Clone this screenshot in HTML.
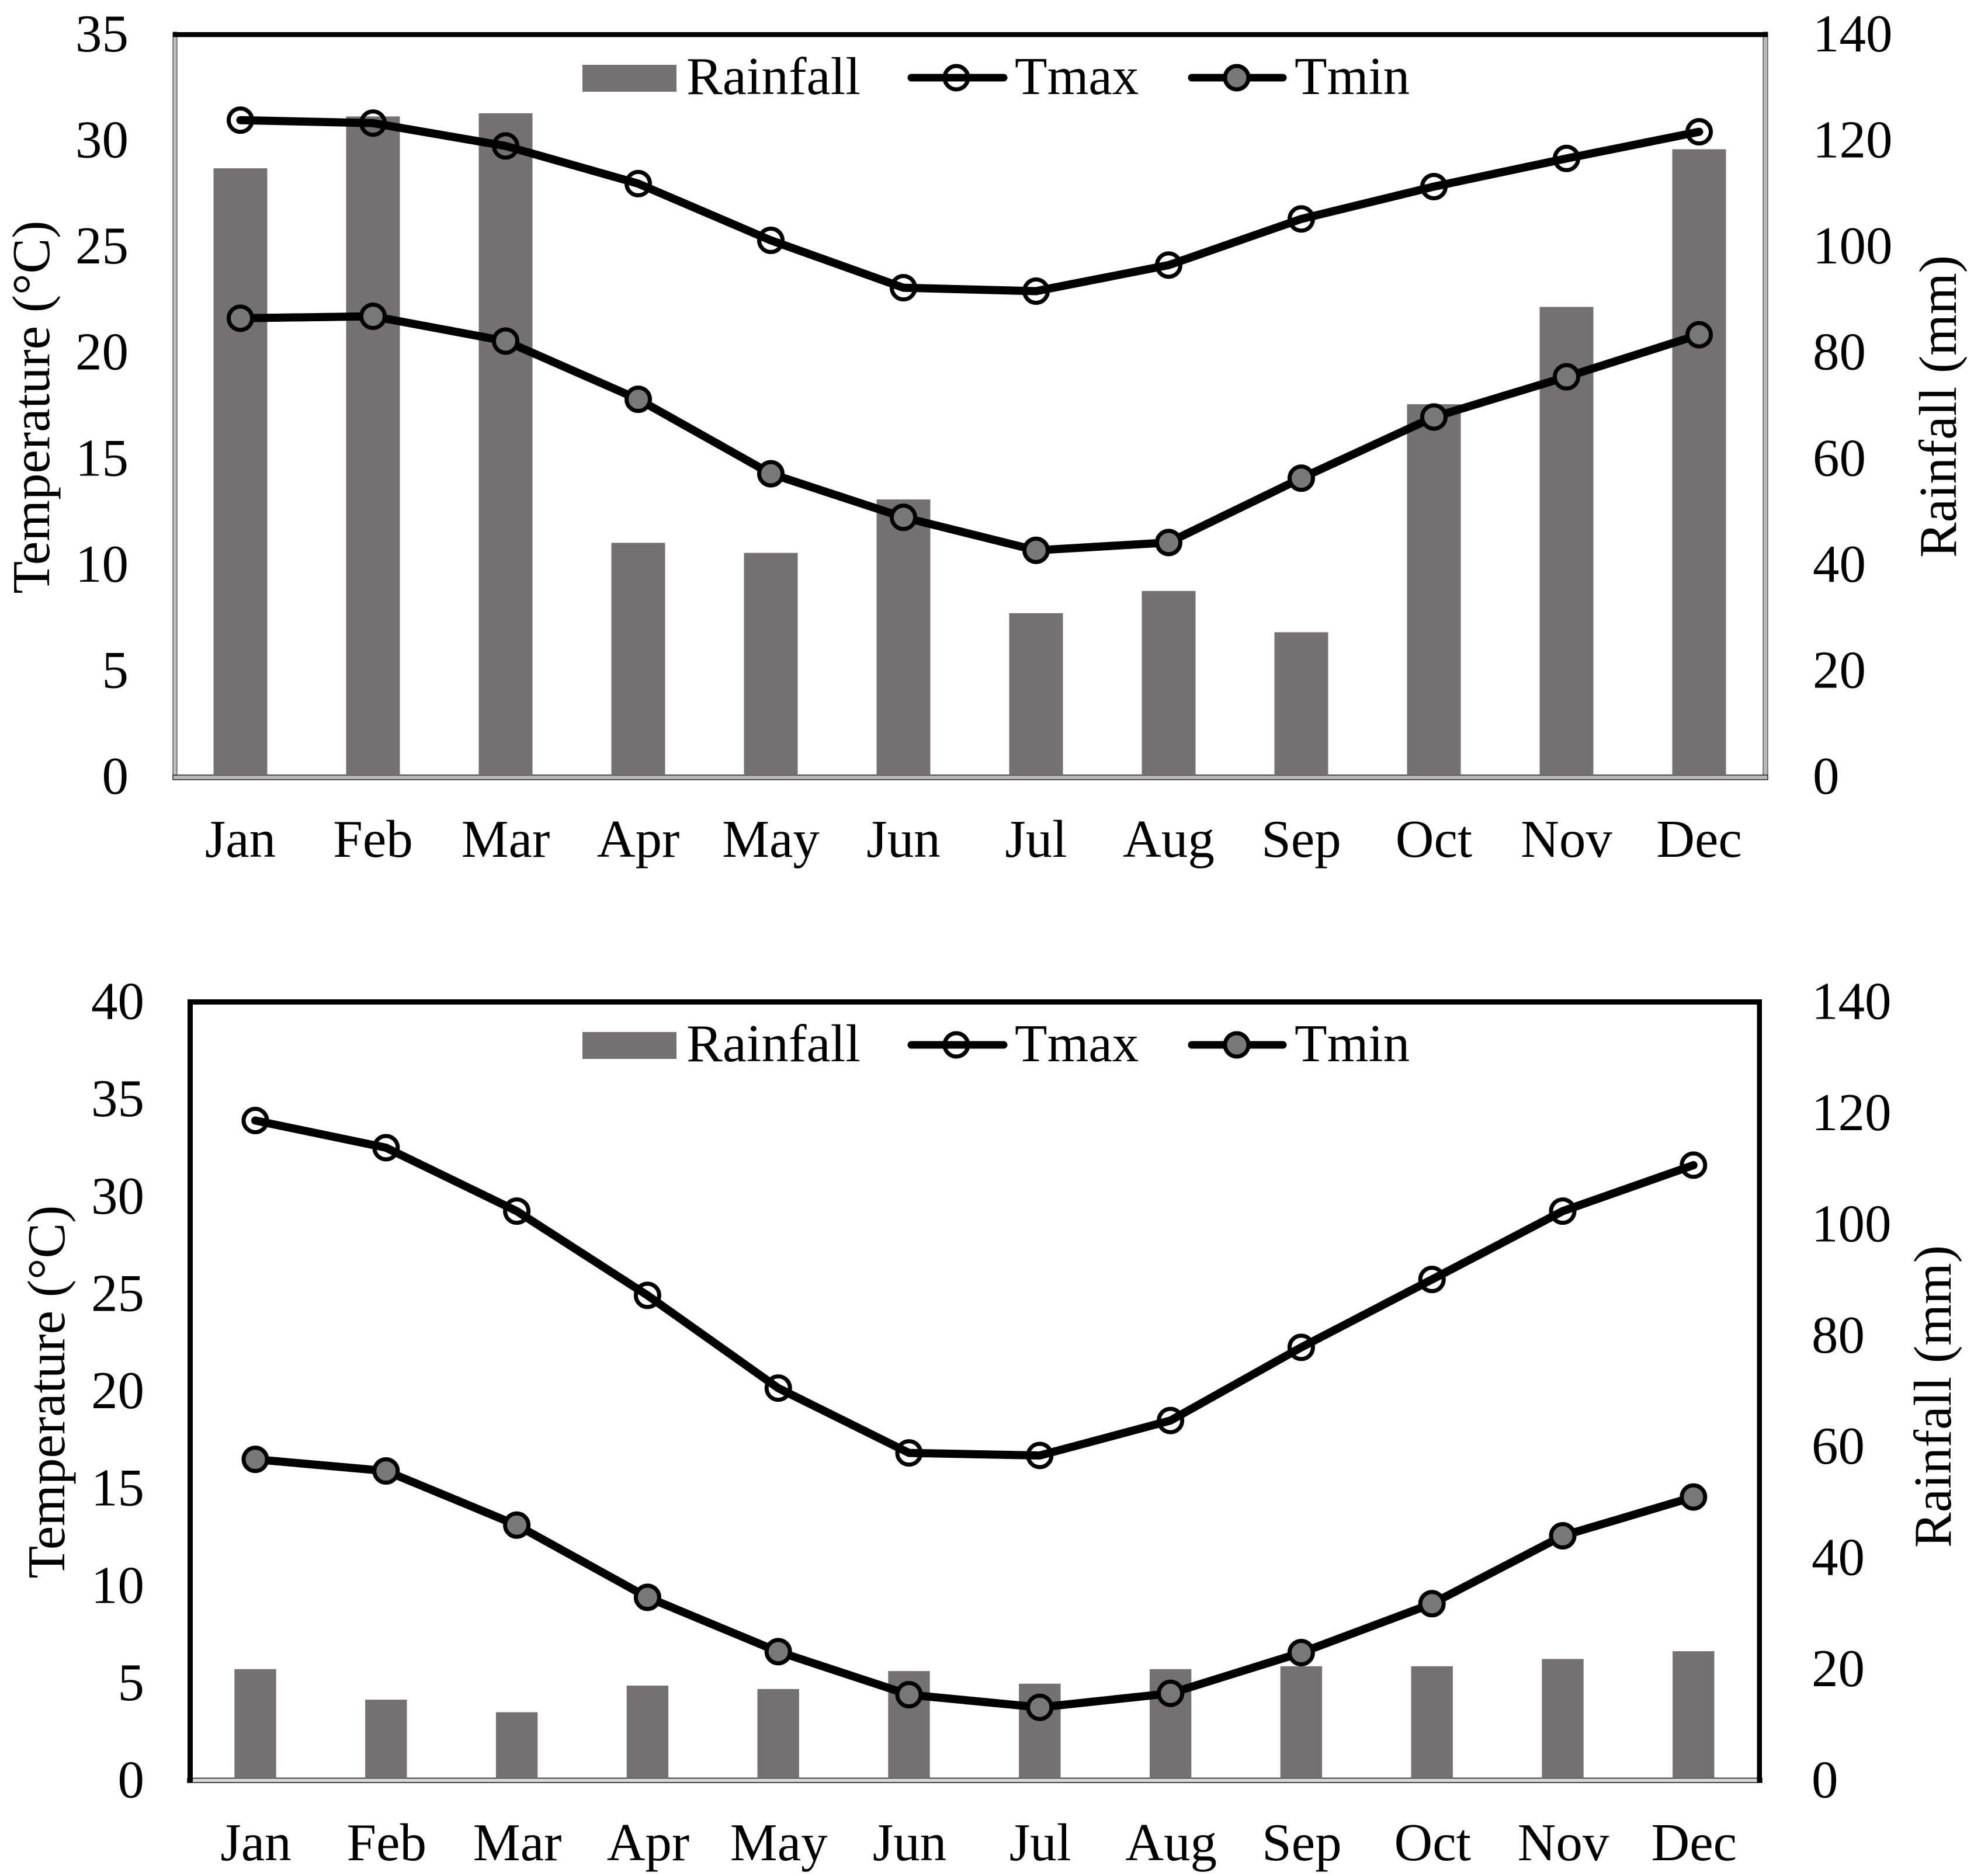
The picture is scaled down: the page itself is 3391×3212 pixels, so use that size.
<!DOCTYPE html>
<html lang="en">
<head>
<meta charset="utf-8">
<title>Monthly temperature and rainfall climate charts</title>
<style>
  html, body { margin: 0; padding: 0; background: #ffffff; }
  svg { display: block; }
  text { font-family: "Liberation Serif", "Times New Roman", serif; font-size: 91px; fill: #000000; }
</style>
</head>
<body>
<svg id="figure" xmlns="http://www.w3.org/2000/svg" width="3391" height="3212" viewBox="0 0 3391 3212">
  <rect x="0" y="0" width="3391" height="3212" fill="#ffffff"/>

  <g id="chart-top">
    <rect x="296" y="55" width="7" height="1280" fill="#bdbdbd" stroke="#222222" stroke-width="1"/>
    <rect x="3018" y="55" width="8" height="1280" fill="#b8b8b8" stroke="#222222" stroke-width="1"/>
    <rect x="296" y="1327" width="2730" height="8" fill="#b8b8b8" stroke="#222222" stroke-width="1.5"/>
    <rect x="296" y="55" width="2730" height="8.5" fill="#000000"/>
  </g>

  <g id="chart-bottom">
    <rect x="321" y="3044.5" width="2695" height="7.5" fill="#d9d9d9" stroke="#111111" stroke-width="1.5"/>
    <rect x="321" y="1711" width="9" height="1341" fill="#000000"/>
    <rect x="3007.5" y="1711" width="8.5" height="1341" fill="#000000"/>
    <rect x="321" y="1711" width="2695" height="9" fill="#000000"/>
  </g>

  <text transform="translate(84 697) rotate(-90)" text-anchor="middle">Temperature (°C)</text>
  <text transform="translate(3348 696) rotate(-90)" text-anchor="middle">Rainfall (mm)</text>
  <text transform="translate(110 2383) rotate(-90)" text-anchor="middle">Temperature (°C)</text>
  <text transform="translate(3339 2391) rotate(-90)" text-anchor="middle">Rainfall (mm)</text>
</svg>

<script>
const months = ["Jan", "Feb", "Mar", "Apr", "May", "Jun", "Jul", "Aug", "Sep", "Oct", "Nov", "Dec"];

const topTmax = [30.95, 30.81, 29.73, 27.95, 25.27, 23.03, 22.87, 24.10, 26.28, 27.81, 29.14, 30.40];
const topTmin = [21.59, 21.68, 20.51, 17.76, 14.24, 12.18, 10.62, 10.99, 14.03, 16.92, 18.82, 20.81];
const topRain = [114.7, 124.5, 125.1, 43.9, 42.0, 52.1, 30.6, 34.8, 27.0, 70.1, 88.5, 118.3];
const topTempTicks = [0, 5, 10, 15, 20, 25, 30, 35];

const bottomTmax = [33.89, 32.49, 29.22, 24.88, 20.10, 16.76, 16.63, 18.43, 22.20, 25.70, 29.22, 31.59];
const bottomTmin = [16.43, 15.83, 13.04, 9.32, 6.52, 4.30, 3.65, 4.37, 6.47, 8.99, 12.49, 14.49];
const bottomRain = [19.67, 14.16, 11.89, 16.70, 16.08, 19.32, 17.04, 19.67, 20.19, 20.19, 21.50, 22.90];
const bottomTempTicks = [0, 5, 10, 15, 20, 25, 30, 35, 40];

const rainTicks = [0, 20, 40, 60, 80, 100, 120, 140];

const NS = "http://www.w3.org/2000/svg";

function make(tag, attrs, parent) {
  const el = document.createElementNS(NS, tag);
  for (const k in attrs) el.setAttribute(k, attrs[k]);
  parent.appendChild(el);
  return el;
}

function drawChart(prefix, group, layout, tmax, tmin, rain, tempTicks, rainAxisTicks) {
  const tempMax = tempTicks[tempTicks.length - 1];
  const rainMax = rainAxisTicks[rainAxisTicks.length - 1];
  const xScale = i => layout.firstX + layout.stepX * i;
  const yTemp = v => layout.y0 - (v / tempMax) * (layout.y0 - layout.yTop);
  const yRain = v => layout.y0 - (v / rainMax) * (layout.y0 - layout.yTop);
  const labelY = (y) => y + layout.labelOffset0 + (layout.labelOffsetTop - layout.labelOffset0) * (layout.y0 - y) / (layout.y0 - layout.yTop);

  rain.forEach((v, i) => {
    const bar = make("rect", {
      x: xScale(i) - layout.barWidth / 2,
      y: yRain(v),
      width: layout.barWidth,
      height: layout.y0 - yRain(v),
      fill: "#767171"
    }, group);
    
    
  });

  const lineFor = (values, name) => {
    const pts = values.map((v, i) => xScale(i) + "," + yTemp(v)).join(" ");
    const line = make("polyline", {
      points: pts,
      fill: "none",
      stroke: "#000000",
      "stroke-width": 14,
      "stroke-linejoin": "round",
      "stroke-linecap": "round"
    }, group);
    
    
  };
  lineFor(tmax, "tmax");
  lineFor(tmin, "tmin");

  tmax.forEach((v, i) => {
    const pt = make("circle", { cx: xScale(i), cy: yTemp(v), r: 20, fill: "none", stroke: "#000000", "stroke-width": 7 }, group);
    
    
  });
  tmin.forEach((v, i) => {
    const pt = make("circle", { cx: xScale(i), cy: yTemp(v), r: 20, fill: "#7a7777", stroke: "#000000", "stroke-width": 7 }, group);
    
    
  });

  tempTicks.forEach(v => {
    const t = make("text", { x: layout.leftLabelX, y: labelY(yTemp(v)), "text-anchor": "end" }, group);
    t.textContent = String(v);
    
    
  });
  rainAxisTicks.forEach(v => {
    const t = make("text", { x: layout.rightLabelX, y: labelY(yRain(v)), "text-anchor": "start" }, group);
    t.textContent = String(v);
    
    
  });
  months.forEach((m, i) => {
    const t = make("text", { x: xScale(i) + layout.monthShift, y: layout.monthY, "text-anchor": "middle" }, group);
    t.textContent = m;
    
    
  });

  const legend = make("g", {}, group);
  
  

  const swatch = make("rect", { x: 997, y: layout.legendY - 22, width: 161, height: 46, fill: "#767171" }, legend);
  
  

  const rainText = make("text", { x: 1175, y: layout.legendY + 28, textLength: 298, lengthAdjust: "spacingAndGlyphs" }, legend);
  rainText.textContent = "Rainfall";
  
  

  const maxLine = make("line", { x1: 1560, x2: 1718, y1: layout.legendY, y2: layout.legendY, stroke: "#000000", "stroke-width": 13, "stroke-linecap": "round" }, legend);
  
  

  const maxDot = make("circle", { cx: 1637, cy: layout.legendY, r: 20, fill: "none", stroke: "#000000", "stroke-width": 7 }, legend);
  
  

  const maxText = make("text", { x: 1737, y: layout.legendY + 28 }, legend);
  maxText.textContent = "Tmax";
  
  

  const minLine = make("line", { x1: 2040, x2: 2196, y1: layout.legendY, y2: layout.legendY, stroke: "#000000", "stroke-width": 13, "stroke-linecap": "round" }, legend);
  
  

  const minDot = make("circle", { cx: 2117, cy: layout.legendY, r: 20, fill: "#7a7777", stroke: "#000000", "stroke-width": 7 }, legend);
  
  

  const minText = make("text", { x: 2216, y: layout.legendY + 28 }, legend);
  minText.textContent = "Tmin";
  
  
}

drawChart("top", document.getElementById("chart-top"), {
  firstX: 411.5, stepX: 227, y0: 1327, yTop: 59, barWidth: 92,
  leftLabelX: 220, rightLabelX: 3103, monthY: 1467, monthShift: 0,
  labelOffset0: 32, labelOffsetTop: 29, legendY: 133
}, topTmax, topTmin, topRain, topTempTicks, rainTicks);

drawChart("bottom", document.getElementById("chart-bottom"), {
  firstX: 437, stepX: 223.8, y0: 3044.5, yTop: 1715.5, barWidth: 71.4,
  leftLabelX: 247, rightLabelX: 3101, monthY: 3185, monthShift: 1,
  labelOffset0: 33, labelOffsetTop: 29, legendY: 1789
}, bottomTmax, bottomTmin, bottomRain, bottomTempTicks, rainTicks);
</script>
</body>
</html>
